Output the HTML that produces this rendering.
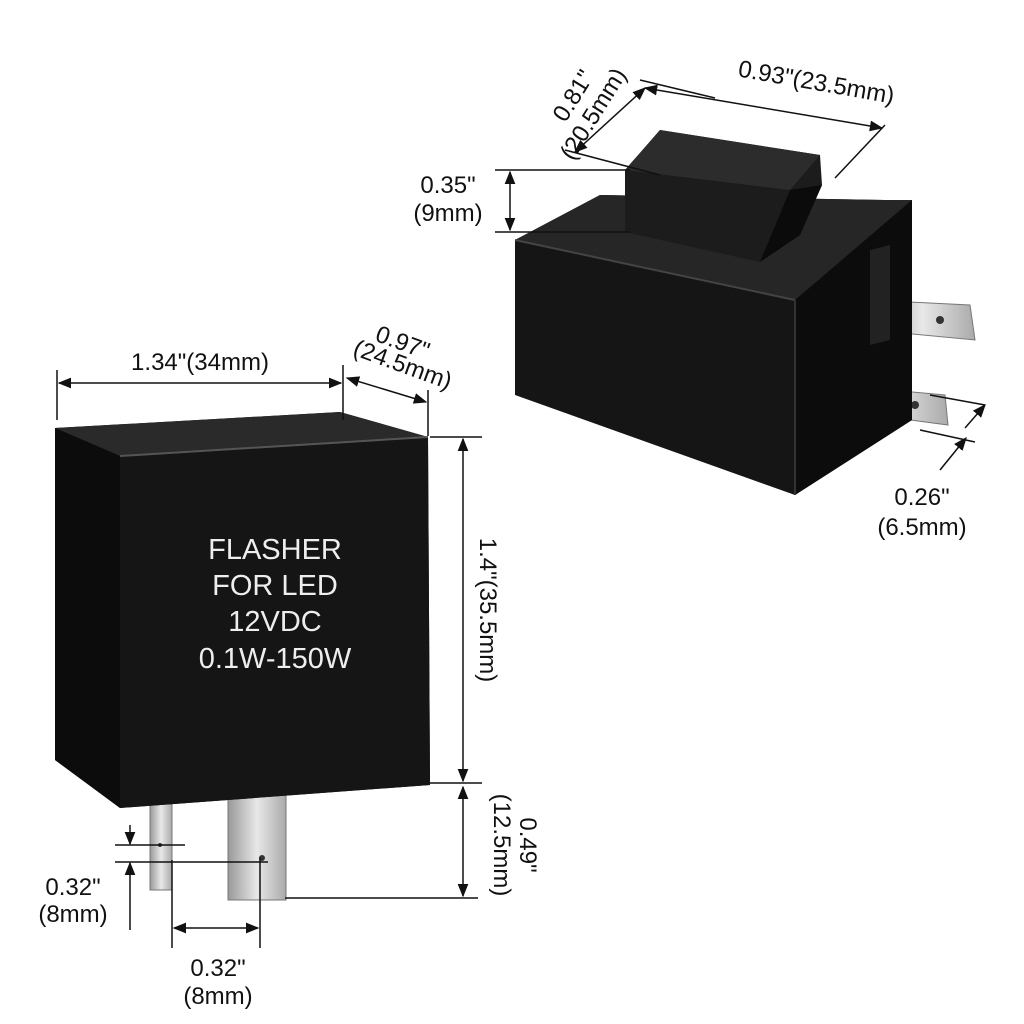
<!DOCTYPE html>
<html><head><meta charset="utf-8"><style>
body{margin:0;background:#fff}
svg{display:block}
text{font-family:"Liberation Sans",sans-serif;fill:#111}
</style></head><body>
<svg width="1024" height="1024" viewBox="0 0 1024 1024" xmlns="http://www.w3.org/2000/svg">
<defs>
<marker id="a" viewBox="0 0 10 10" refX="9" refY="5" markerWidth="9" markerHeight="9" orient="auto-start-reverse"><path d="M0,1 L10,5 L0,9 Z" fill="#111"/></marker>
<linearGradient id="pin" x1="0" x2="1"><stop offset="0" stop-color="#999"/><stop offset="0.5" stop-color="#e8e8e8"/><stop offset="1" stop-color="#aaa"/></linearGradient>
</defs>
<!-- LEFT DEVICE pins -->
<rect x="150" y="800" width="22" height="90" fill="url(#pin)" stroke="#777"/>
<rect x="228" y="795" width="58" height="105" fill="url(#pin)" stroke="#777"/>
<circle cx="262" cy="858" r="3" fill="#333"/>
<circle cx="160" cy="845" r="2" fill="#333"/>
<!-- body -->
<polygon points="55,428 340,412 428,437 430,785 120,808 55,760" fill="#141414"/>
<polygon points="55,428 340,412 428,437 120,456" fill="#2a2a2a"/>
<polygon points="55,428 120,456 120,808 55,760" fill="#0c0c0c"/>
<polygon points="120,456 428,437 430,785 120,808" fill="#151515"/>
<line x1="120" y1="456" x2="428" y2="437" stroke="#555" stroke-width="2"/>
<g font-size="29" text-anchor="middle">
<text x="275" y="559" style="fill:#eee">FLASHER</text>
<text x="275" y="595" style="fill:#eee">FOR LED</text>
<text x="275" y="631" style="fill:#eee">12VDC</text>
<text x="275" y="668" style="fill:#eee">0.1W-150W</text>
</g>
<!-- left dims -->
<g stroke="#111" stroke-width="1.5" fill="none">
<line x1="57" y1="370" x2="57" y2="420"/><line x1="343" y1="365" x2="343" y2="420"/>
<line x1="59" y1="383" x2="341" y2="383" marker-start="url(#a)" marker-end="url(#a)"/>
<line x1="428" y1="390" x2="428" y2="436"/>
<line x1="347" y1="378" x2="426" y2="402" marker-start="url(#a)" marker-end="url(#a)"/>
<line x1="430" y1="437" x2="482" y2="437"/><line x1="430" y1="783" x2="482" y2="783"/>
<line x1="463" y1="439" x2="463" y2="781" marker-start="url(#a)" marker-end="url(#a)"/>
<line x1="463" y1="787" x2="463" y2="896" marker-start="url(#a)" marker-end="url(#a)"/>
<line x1="285" y1="898" x2="478" y2="898"/>
<line x1="115" y1="845" x2="185" y2="845"/><line x1="115" y1="862" x2="268" y2="862"/>
<line x1="130" y1="825" x2="130" y2="844" marker-end="url(#a)"/>
<line x1="130" y1="930" x2="130" y2="863" marker-end="url(#a)"/>
<line x1="172" y1="860" x2="172" y2="948"/><line x1="260" y1="858" x2="260" y2="948"/>
<line x1="174" y1="928" x2="258" y2="928" marker-start="url(#a)" marker-end="url(#a)"/>
</g>
<g font-size="24">
<text x="200" y="370" text-anchor="middle">1.34"(34mm)</text>
<text transform="translate(400,350) rotate(20)" text-anchor="middle">0.97"</text>
<text transform="translate(400,372) rotate(20)" text-anchor="middle">(24.5mm)</text>
<text transform="translate(480,610) rotate(90)" text-anchor="middle">1.4"(35.5mm)</text>
<text transform="translate(520,845) rotate(90)" text-anchor="middle">0.49"</text>
<text transform="translate(494,845) rotate(90)" text-anchor="middle">(12.5mm)</text>
<text x="73" y="895" text-anchor="middle">0.32"</text>
<text x="73" y="922" text-anchor="middle">(8mm)</text>
<text x="218" y="976" text-anchor="middle">0.32"</text>
<text x="218" y="1004" text-anchor="middle">(8mm)</text>
</g>
<!-- RIGHT DEVICE -->
<polygon points="870,300 970,305 975,340 870,330" fill="url(#pin)" stroke="#777"/>
<polygon points="835,385 945,395 948,425 835,410" fill="url(#pin)" stroke="#777"/>
<circle cx="940" cy="320" r="4" fill="#333"/><circle cx="915" cy="405" r="4" fill="#333"/>
<polygon points="515,240 600,195 885,200 912,200 912,420 795,495 515,395" fill="#151515"/>
<polygon points="515,240 600,195 885,200 912,200 800,300" fill="#262626"/>
<polygon points="795,300 912,200 912,420 795,495" fill="#0c0c0c"/>
<line x1="515" y1="240" x2="795" y2="300" stroke="#444" stroke-width="2"/>
<line x1="795" y1="300" x2="795" y2="495" stroke="#333" stroke-width="2"/>
<polygon points="870,250 890,245 890,340 870,345" fill="#222"/>
<polygon points="625,170 660,130 820,155 822,185 800,235 760,262 625,232" fill="#1c1c1c"/>
<polygon points="625,170 660,130 820,155 790,190" fill="#2c2c2c"/>
<polygon points="790,190 822,185 800,235 760,262" fill="#0b0b0b"/>
<g stroke="#111" stroke-width="1.5" fill="none">
<line x1="640" y1="80" x2="715" y2="98"/><line x1="885" y1="125" x2="835" y2="178"/>
<line x1="645" y1="88" x2="882" y2="128" marker-start="url(#a)" marker-end="url(#a)"/>
<line x1="565" y1="150" x2="660" y2="175"/>
<line x1="645" y1="88" x2="575" y2="152" marker-start="url(#a)" marker-end="url(#a)"/>
<line x1="495" y1="170" x2="630" y2="170"/><line x1="495" y1="232" x2="630" y2="232"/>
<line x1="510" y1="172" x2="510" y2="230" marker-start="url(#a)" marker-end="url(#a)"/>
<line x1="930" y1="395" x2="985" y2="405"/><line x1="920" y1="430" x2="975" y2="442"/>
<line x1="985" y1="405" x2="965" y2="428" marker-start="url(#a)"/>
<line x1="940" y1="470" x2="966" y2="438" marker-end="url(#a)"/>
</g>
<g font-size="24">
<text transform="translate(815,90) rotate(10)" text-anchor="middle">0.93"(23.5mm)</text>
<text transform="translate(580,100) rotate(-58)" text-anchor="middle">0.81"</text>
<text transform="translate(600,118) rotate(-58)" text-anchor="middle">(20.5mm)</text>
<text x="448" y="193" text-anchor="middle">0.35"</text>
<text x="448" y="221" text-anchor="middle">(9mm)</text>
<text x="922" y="505" text-anchor="middle">0.26"</text>
<text x="922" y="535" text-anchor="middle">(6.5mm)</text>
</g>
</svg>
</body></html>
